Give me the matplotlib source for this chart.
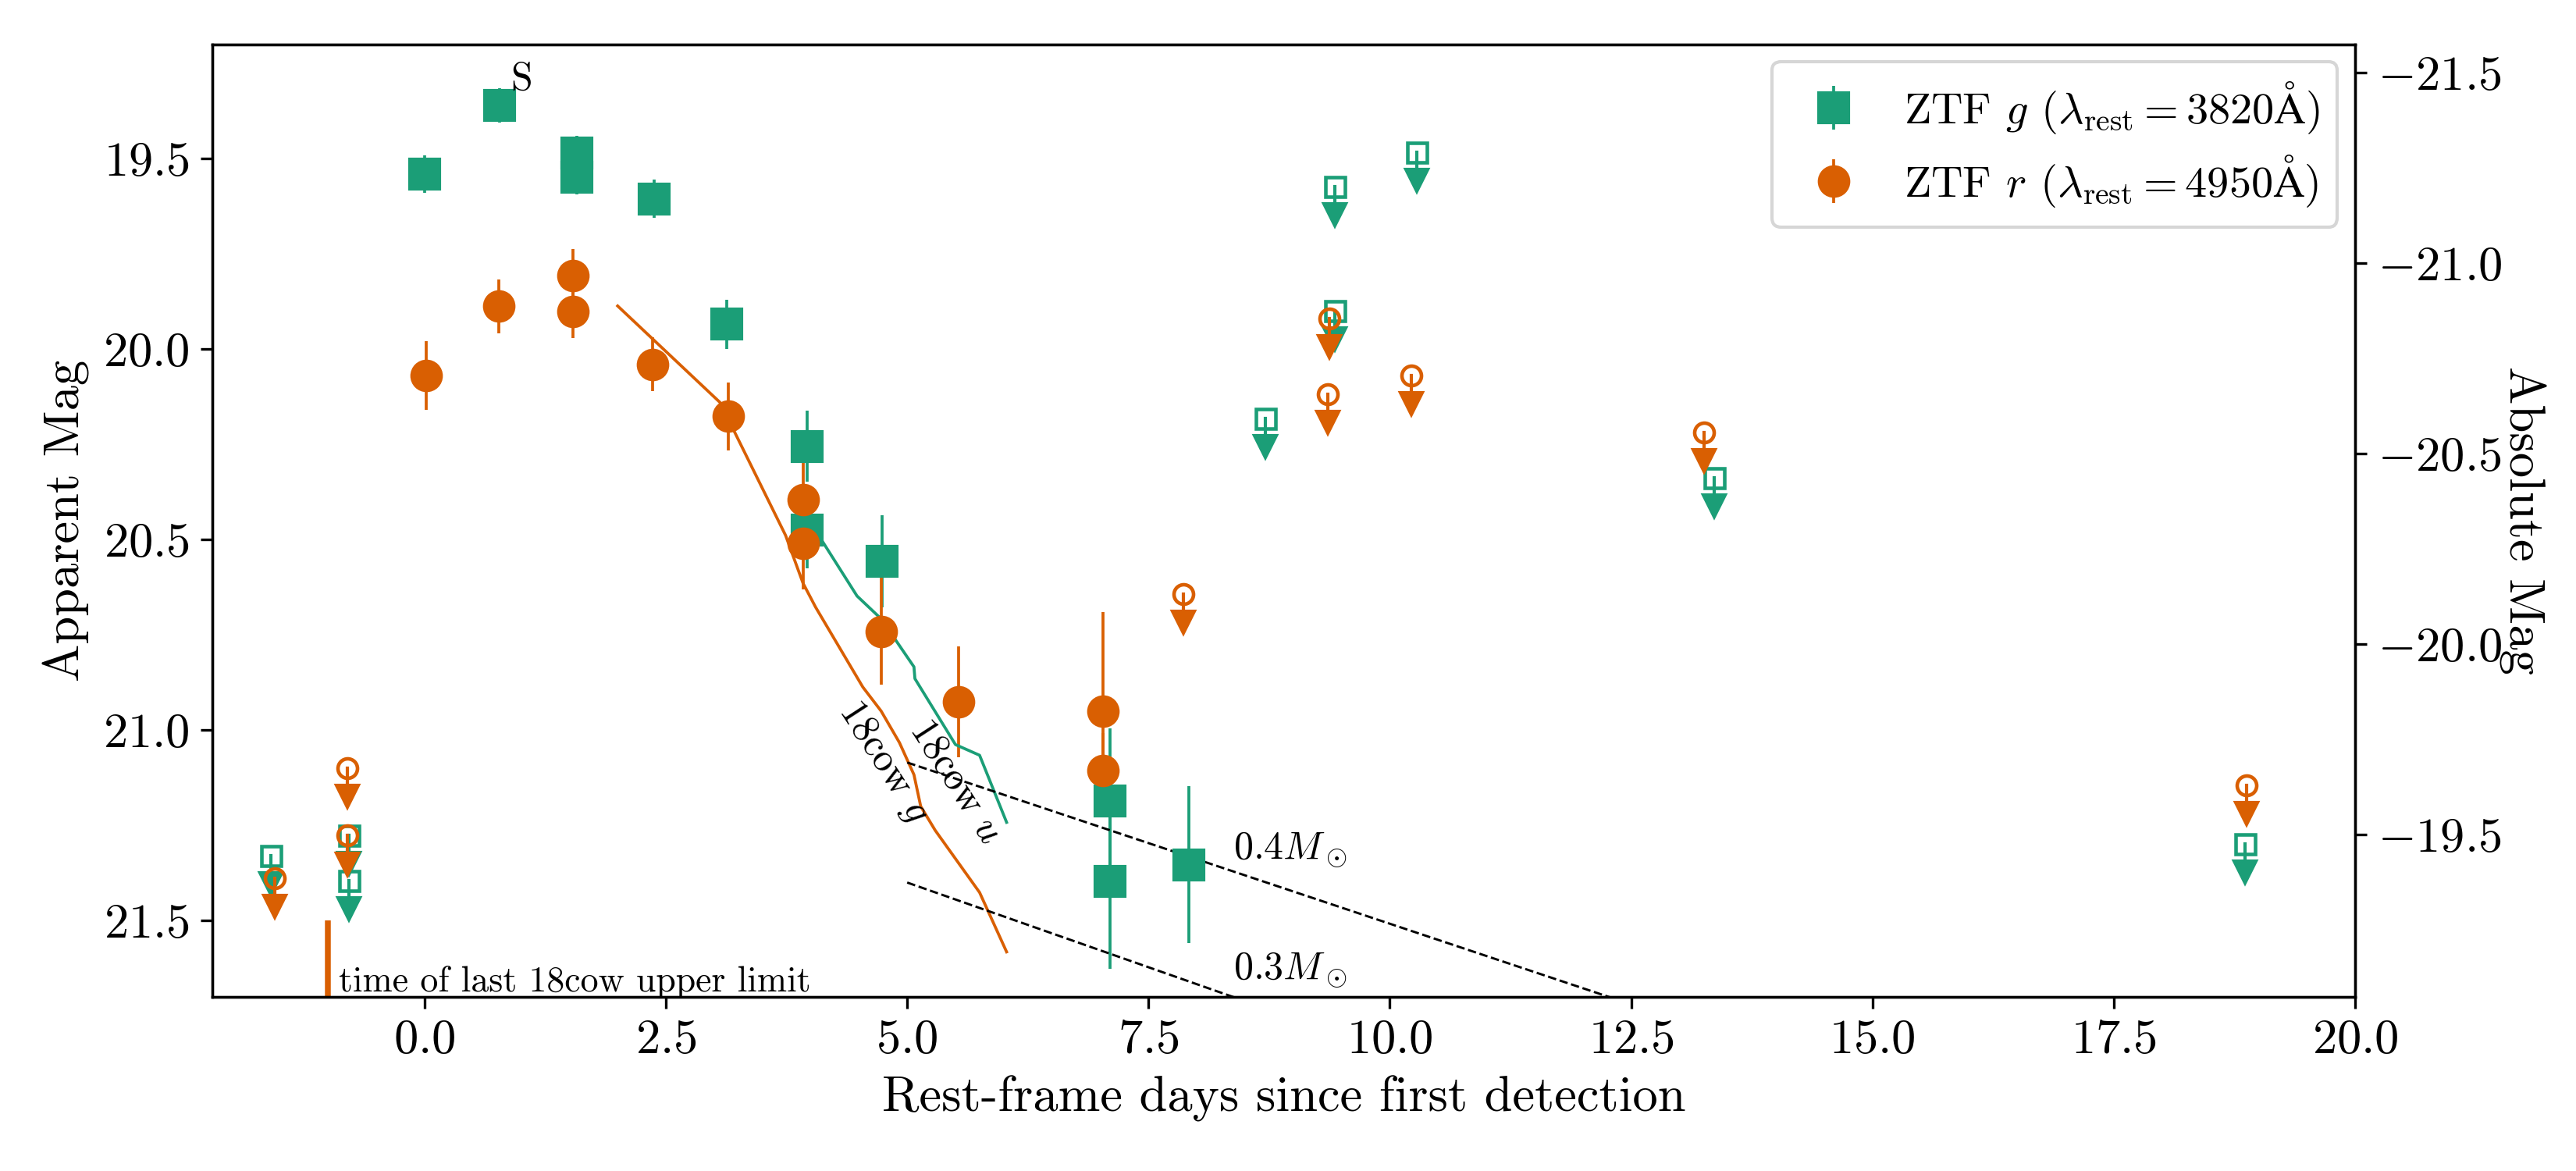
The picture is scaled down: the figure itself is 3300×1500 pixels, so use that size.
import numpy as np
import matplotlib
matplotlib.use("Agg")
import matplotlib.pyplot as plt

plt.rcParams['font.family'] = 'serif'
plt.rcParams['font.serif'] = ['cmr10']
plt.rcParams['mathtext.fontset'] = 'cm'
plt.rcParams['axes.formatter.use_mathtext'] = True

gcol = '#1b9e77'
rcol = '#d95f02'

# ZTF g detections (rest-frame days, apparent mag, error)
g_t = [0.00, 0.78, 1.58, 1.58, 2.38, 3.13, 3.96, 3.96, 4.74, 7.10, 7.10, 7.92]
g_mag = [19.541, 19.361, 19.486, 19.549, 19.606, 19.935, 20.255, 20.476, 20.557, 21.185, 21.396, 21.353]
g_err = [0.05, 0.045, 0.045, 0.045, 0.05, 0.065, 0.093, 0.10, 0.12, 0.19, 0.23, 0.206]

# ZTF r detections
r_t = [0.02, 0.77, 1.54, 1.54, 2.36, 3.15, 3.92, 3.92, 4.73, 5.53, 7.03, 7.03]
r_mag = [20.069, 19.888, 19.808, 19.902, 20.040, 20.177, 20.395, 20.510, 20.741, 20.926, 20.951, 21.107]
r_err = [0.09, 0.07, 0.07, 0.07, 0.07, 0.09, 0.10, 0.12, 0.14, 0.145, 0.26, 0.10]

# upper limits
g_ul_t = [-1.59, -0.78, -0.78, 8.71, 9.43, 9.43, 10.28, 13.36, 18.86]
g_ul_mag = [21.33, 21.276, 21.394, 20.182, 19.574, 19.90, 19.484, 20.338, 21.299]
r_ul_t = [-1.55, -0.80, -0.80, 7.86, 9.37, 9.36, 10.22, 13.26, 18.88]
r_ul_mag = [21.388, 21.099, 21.277, 20.643, 19.92, 20.118, 20.069, 20.219, 21.144]

# AT2018cow light curves, shifted
cow_g_t = [2.00, 3.06, 3.74, 3.92, 4.05, 4.54, 4.73, 4.92, 5.07, 5.14, 5.29, 5.75, 6.03]
cow_g_mag = [19.887, 20.140, 20.489, 20.614, 20.677, 20.887, 20.950, 21.033, 21.117, 21.200, 21.263, 21.426, 21.582]
cow_u_t = [3.96, 4.48, 4.73, 5.07, 5.08, 5.50, 5.75, 6.03]
cow_u_mag = [20.440, 20.648, 20.708, 20.834, 20.865, 21.038, 21.066, 21.242]

# model lines
m04_t = [5.0, 12.6]
m04_mag = [21.085, 21.728]
m03_t = [5.0, 8.6]
m03_mag = [21.40, 21.72]

t_cow_limit = -1.0
DM = 40.775

fig, ax = plt.subplots(figsize=(11, 5), dpi=300)
fig.subplots_adjust(left=0.0824, right=0.9142, top=0.9623, bottom=0.1487)

ax.errorbar(g_t, g_mag, yerr=g_err, fmt='s', color=gcol, ms=9, elinewidth=0.9,
            capsize=0, label=r'ZTF $g$ ($\lambda_\mathrm{rest}=3820\mathrm{\AA}$)')
ax.errorbar(r_t, r_mag, yerr=r_err, fmt='o', color=rcol, ms=9, elinewidth=0.9,
            capsize=0, label=r'ZTF $r$ ($\lambda_\mathrm{rest}=4950\mathrm{\AA}$)')

# upper limits: open marker + arrow
for tt, mm, mk, c in [(g_ul_t, g_ul_mag, 's', gcol), (r_ul_t, r_ul_mag, 'o', rcol)]:
    for x, y in zip(tt, mm):
        ax.plot([x, x], [y, y + 0.05], color=c, lw=1)
        ax.plot(x, y, marker=mk, ms=6, mfc='none', mec=c, mew=1.1)
        ax.plot(x, y + 0.074, marker='v', ms=6.5, color=c, lw=0)

ax.plot(cow_g_t, cow_g_mag, color=rcol, lw=0.9)
ax.plot(cow_u_t, cow_u_mag, color=gcol, lw=0.9)
ax.plot(m04_t, m04_mag, color='k', ls='--', lw=0.7)
ax.plot(m03_t, m03_mag, color='k', ls='--', lw=0.7)

ax.text(4.76, 21.085, r'18cow $g$', rotation=-57, ha='center', va='center', fontsize=12)
ax.text(5.50, 21.136, r'18cow $u$', rotation=-57, ha='center', va='center', fontsize=12)
ax.text(8.38, 21.316, r'0.4$M_\odot$', ha='left', va='center', fontsize=12)
ax.text(8.38, 21.63, r'0.3$M_\odot$', ha='left', va='center', fontsize=12)
ax.text(0.89, 19.32, 'S', ha='left', va='baseline', fontsize=12)

ax.vlines(t_cow_limit, 21.5, 21.70, color=rcol, lw=1.8)
ax.text(-0.89, 21.685, 'time of last 18cow upper limit', ha='left', va='baseline', fontsize=11)

ax.set_xlim(-2.2, 20)
ax.set_ylim(21.70, 19.20)
ax.set_xticks(np.arange(0, 20.1, 2.5))
ax.set_yticks([19.5, 20.0, 20.5, 21.0, 21.5])
ax.set_xlabel('Rest-frame days since first detection', fontsize=15.5)
ax.set_ylabel('Apparent Mag', fontsize=15.5)
ax.tick_params(labelsize=15)

ax2 = ax.twinx()
ax2.set_ylim(21.70 - DM, 19.20 - DM)
ax2.set_yticks([-21.5, -21.0, -20.5, -20.0, -19.5])
ax2.set_ylabel('Absolute Mag', fontsize=15.5, rotation=270, va='bottom', labelpad=-1)
ax2.tick_params(labelsize=15)

ax.legend(loc='upper right', fontsize=13.5, handletextpad=0.6, borderaxespad=0.4,
          labelspacing=0.4)

fig.savefig('out.png', dpi=300)
